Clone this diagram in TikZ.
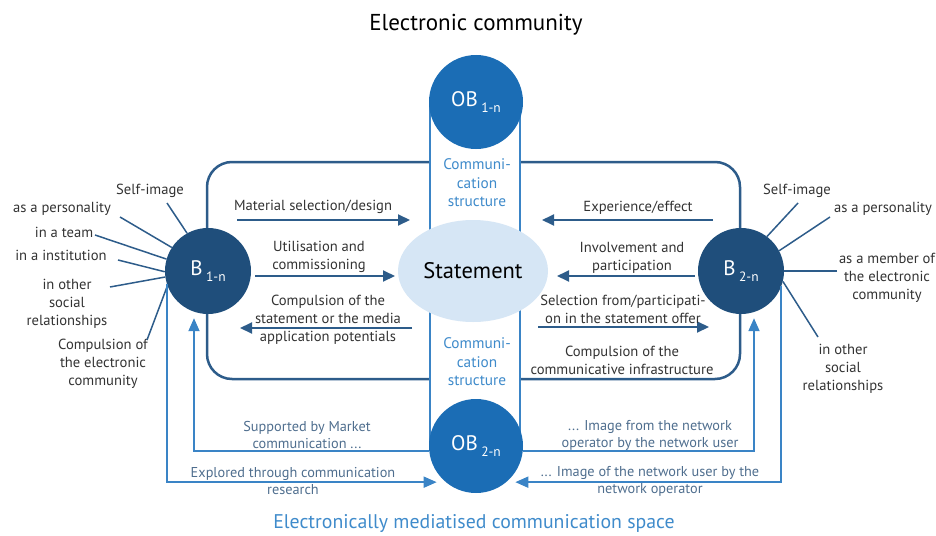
\documentclass[tikz,border=0pt]{standalone}
\usepackage{fontspec}
\setmainfont{PT Sans}
\usetikzlibrary{arrows.meta,shapes.geometric}
\definecolor{obblue}{HTML}{1B6DB5}
\definecolor{bnavy}{HTML}{1F4E7B}
\definecolor{framec}{HTML}{2D5C8A}
\definecolor{lineblue}{HTML}{3A84C6}
\definecolor{stmt}{HTML}{D6E6F5}
\definecolor{cstext}{HTML}{3F8BCB}
\definecolor{infot}{HTML}{4F6E8E}
\definecolor{txt}{HTML}{333333}
\newcommand\lowtext[1]{\,\raisebox{-0.55ex}{\fontsize{13.5}{13.5}\selectfont #1}}
\begin{document}
\begin{tikzpicture}[x=1pt,y=-1pt,
  lbl/.style={text=txt, font=\fontsize{14.6}{18}\selectfont, align=center, inner sep=0pt},
  info/.style={text=infot, font=\fontsize{14.3}{17}\selectfont, align=center, inner sep=0pt},
  cstxt/.style={text=cstext, font=\fontsize{15.3}{18.5}\selectfont, align=center, inner sep=0pt},
  obcirc/.style={circle, fill=obblue, minimum size=94pt, inner sep=0pt, text=white, font=\fontsize{21}{21}\selectfont},
  bcirc/.style={circle, fill=bnavy, minimum size=86pt, inner sep=0pt, text=white, font=\fontsize{21}{21}\selectfont},
  darrow/.style={draw=framec, line width=2pt, -{Triangle[length=12pt,width=11pt]}},
  spoke/.style={draw=framec, line width=1.5pt},
  conn/.style={draw=lineblue, line width=1.8pt},
  connarrow/.style={conn, -{Triangle[length=13pt,width=11pt]}},
]
\useasboundingbox (0,0) rectangle (936,535);

% outer frame of the community
\draw[framec, line width=2.5pt, rounded corners=25pt] (207,162) rectangle (740,379);

% communication structure column
\fill[white] (430,102) rectangle (520,447);
\coordinate (obtop) at (476,102);
\coordinate (obbot) at (476,446);
\draw[lineblue, line width=2pt] ([xshift=-46pt]obtop) -- ([xshift=-46pt]obbot);
\draw[lineblue, line width=2pt] ([xshift=44pt]obtop) -- ([xshift=44pt]obbot);

% main nodes
\node[ellipse, fill=stmt, minimum width=150pt, minimum height=102pt, inner sep=0pt,
      font=\fontsize{22.5}{22.5}\selectfont] (st) at (473,271) {Statement};
\node[obcirc] (ob1) at (obtop) {OB\lowtext{1-n}};
\node[obcirc] (ob2) at (obbot) {OB\lowtext{2-n}};
\node[bcirc] (b1) at (208,271) {B\lowtext{1-n}};
\node[bcirc] (b2) at (741,271) {B\lowtext{2-n}};

% titles
\node[font=\fontsize{23}{23}\selectfont, text=black] (title) at (476,25) {Electronic community};
\node[font=\fontsize{19.8}{19.8}\selectfont, text=cstext] (space) at (474,524) {Electronically mediatised communication space};

% communication structure labels
\node[cstxt] (cs1) at (477,183) {Communi-\\cation\\structure};
\node[cstxt] (cs2) at (477,362) {Communi-\\cation\\structure};

% arrows between B and the statement
\coordinate (a1s) at (237,220); \coordinate (a1e) at (410,220);
\coordinate (a2s) at (255,276); \coordinate (a2e) at (395,276);
\coordinate (a3s) at (412,328); \coordinate (a3e) at (240,328);
\coordinate (a4s) at (713,220); \coordinate (a4e) at (542,220);
\coordinate (a5s) at (695,276); \coordinate (a5e) at (557,276);
\coordinate (a6s) at (538,327); \coordinate (a6e) at (709,327);
\draw[darrow] (a1s) -- (a1e);
\draw[darrow] (a2s) -- (a2e);
\draw[darrow] (a3s) -- (a3e);
\draw[darrow] (a4s) -- (a4e);
\draw[darrow] (a5s) -- (a5e);
\draw[darrow] (a6s) -- (a6e);

\node[lbl] (l1) at (313,207) {Material selection/design};
\node[lbl] (l2) at (319,257) {Utilisation and\\commissioning};
\node[lbl] (l3) at (328,320) {Compulsion of the\\statement or the media\\application potentials};
\node[lbl] (l4) at (638,208) {Experience/effect};
\node[lbl] (l5) at (632,258) {Involvement and\\participation};
\node[lbl] (l6) at (623,309) {Selection from/participati-\\on in the statement offer};
\node[lbl] (l7) at (622,360) {Compulsion of the\\communicative infrastructure};

% spokes of B 1-n
\node[lbl] (s1) at (150,191) {Self-image};
\node[lbl] (s2) at (62,209) {as a personality};
\node[lbl] (s3) at (64,232) {in a team};
\node[lbl] (s4) at (61,255) {in a institution};
\node[lbl] (s5) at (67,304) {in other\\social\\relationships};
\node[lbl] (s6) at (103,364) {Compulsion of\\the electronic\\community};
\coordinate (p1) at (167,203);
\coordinate (p2) at (120,217);
\coordinate (p3) at (95,235);
\coordinate (p4) at (118,260);
\coordinate (p5) at (110,287);
\coordinate (p6) at (147,340);
\draw[spoke] (p1) -- (b1.119);
\draw[spoke] (p2) -- (b1.147);
\draw[spoke] (p3) -- (b1.164);
\draw[spoke] (p4) -- (b1.181);
\draw[spoke] (p5) -- (b1.188);
\draw[spoke] (p6) -- (b1.200);

% spokes of B 2-n
\node[lbl] (r1) at (797,191) {Self-image};
\node[lbl] (r2) at (883,209) {as a personality};
\node[lbl] (r3) at (887,278) {as a member of\\the electronic\\community};
\node[lbl] (r4) at (843,369) {in other\\social\\relationships};
\coordinate (q1) at (798,203);
\coordinate (q2) at (830,217);
\coordinate (q3) at (837,271);
\coordinate (q4) at (818,337);
\draw[spoke] (q1) -- (b2.53);
\draw[spoke] (q2) -- (b2.28);
\draw[spoke] (q3) -- (b2.0);
\draw[spoke] (q4) -- (b2.-14);

% connections through OB 2-n
\draw[connarrow, shorten >=4pt] (ob2.186) -| ([xshift=-14pt]b1.south);
\draw[connarrow, shorten >=9pt] (b1.198) |- (ob2.230);
\draw[connarrow, shorten >=4pt] (ob2.-6) -| ([xshift=13pt]b2.south);
\draw[connarrow, shorten >=9pt] (b2.-21) |- (ob2.-50);

\node[info] (i1) at (307,435) {Supported by Market\\communication ...};
\node[info] (i2) at (293,481) {Explored through communication\\research};
\node[info] (i3) at (650,435) {... Image from the network\\operator by the network user};
\node[info] (i4) at (650,481) {... Image of the network user by the\\network operator};
\end{tikzpicture}
\end{document}
